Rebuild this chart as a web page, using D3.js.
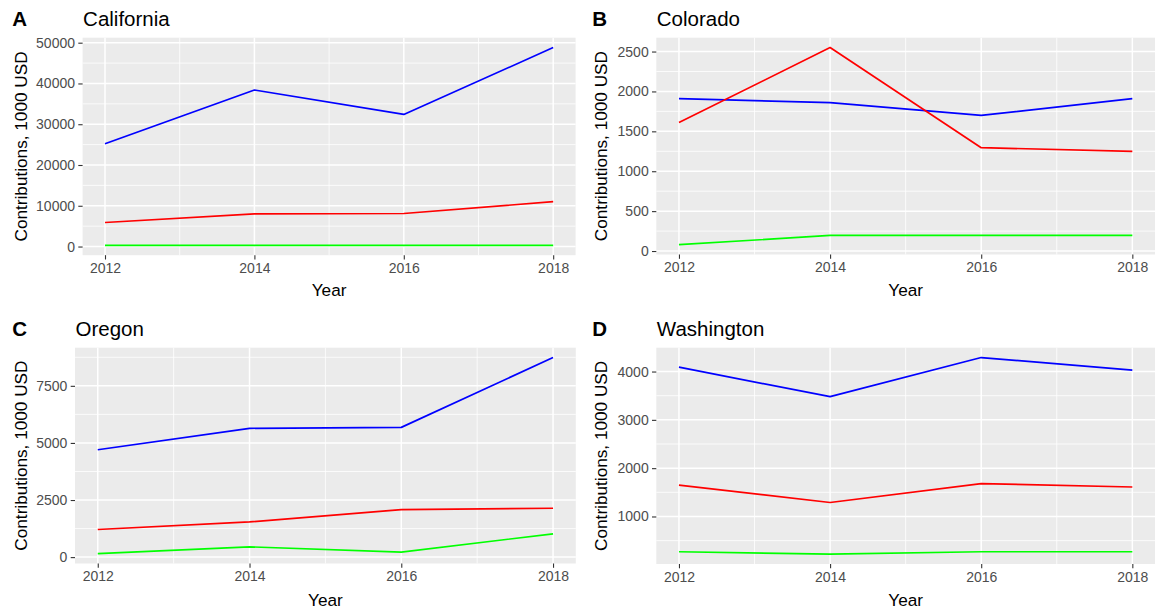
<!DOCTYPE html>
<html>
<head>
<meta charset="utf-8">
<script src="https://cdn.jsdelivr.net/npm/d3@7"></script>
<style>
  html, body { margin: 0; padding: 0; background: #ffffff; }
  svg { display: block; font-family: "Liberation Sans", Arial, sans-serif; }
</style>
</head>
<body>
<svg id="chart" width="1156" height="609"></svg>
<script>
// Campaign contributions by year, four states (values in 1000 USD)
const years = [2012, 2014, 2016, 2018];
const xTicks = [2012, 2014, 2016, 2018];

const caBlue  = [25200, 38400, 32400, 48800];
const caRed   = [5900, 8000, 8100, 11000];
const caGreen = [300, 300, 300, 300];
const caTicks = [0, 10000, 20000, 30000, 40000, 50000];

const coBlue  = [1910, 1860, 1700, 1910];
const coRed   = [1610, 2550, 1295, 1250];
const coGreen = [80, 195, 195, 195];
const coTicks = [0, 500, 1000, 1500, 2000, 2500];

const orBlue  = [4700, 5640, 5680, 8740];
const orRed   = [1210, 1540, 2080, 2140];
const orGreen = [150, 450, 220, 1020];
const orTicks = [0, 2500, 5000, 7500];

const waBlue  = [4090, 3480, 4290, 4030];
const waRed   = [1650, 1290, 1680, 1610];
const waGreen = [270, 220, 270, 270];
const waTicks = [1000, 2000, 3000, 4000];

const panelTags   = ["A", "B", "C", "D"];
const panelTitles = ["California", "Colorado", "Oregon", "Washington"];
const seriesColors = ["#0000FF", "#FF0000", "#00FF00"];

const panels = [
  { series: [caBlue, caRed, caGreen], ticks: caTicks },
  { series: [coBlue, coRed, coGreen], ticks: coTicks },
  { series: [orBlue, orRed, orGreen], ticks: orTicks },
  { series: [waBlue, waRed, waGreen], ticks: waTicks }
];

// Layout of each sub-plot: origin of the cell and its panel box
const layout = [
  { ox: 0,   oy: 0,   left: 82.6, right: 575.6, top: 37.7, bottom: 255.2 },
  { ox: 580, oy: 0,   left: 656.3, right: 1155, top: 37.7, bottom: 254.5 },
  { ox: 0,   oy: 310, left: 75,   right: 575.8, top: 347.7, bottom: 563.5 },
  { ox: 580, oy: 310, left: 656.3, right: 1155, top: 347.7, bottom: 564 }
];

const svg = d3.select("#chart");
const fmt = d3.format("d");
const tickFont = "14px";

panels.forEach((p, i) => {
  const L = layout[i];
  const g = svg.append("g");

  // ggplot-style 5% expansion of the data range
  const xr = d3.extent(years);
  const xPad = (xr[1] - xr[0]) * 0.05;
  const x = d3.scaleLinear().domain([xr[0] - xPad, xr[1] + xPad]).range([L.left, L.right]);

  const all = p.series.flat();
  const yr = d3.extent(all);
  const yPad = (yr[1] - yr[0]) * 0.05;
  const yDom = [yr[0] - yPad, yr[1] + yPad];
  const y = d3.scaleLinear().domain(yDom).range([L.bottom, L.top]);

  // panel background
  g.append("rect")
    .attr("x", L.left).attr("y", L.top)
    .attr("width", L.right - L.left).attr("height", L.bottom - L.top)
    .attr("fill", "#EBEBEB");

  // minor grid lines
  const step = p.ticks[1] - p.ticks[0];
  const yMinor = [];
  for (let v = p.ticks[0] - step / 2; v <= yDom[1]; v += step) {
    if (v >= yDom[0]) yMinor.push(v);
  }
  const xMinor = [2013, 2015, 2017];

  g.selectAll(".ymin").data(yMinor).join("line")
    .attr("x1", L.left).attr("x2", L.right)
    .attr("y1", d => y(d)).attr("y2", d => y(d))
    .attr("stroke", "#FFFFFF").attr("stroke-width", 0.8);
  g.selectAll(".xmin").data(xMinor).join("line")
    .attr("y1", L.top).attr("y2", L.bottom)
    .attr("x1", d => x(d)).attr("x2", d => x(d))
    .attr("stroke", "#FFFFFF").attr("stroke-width", 0.8);

  // major grid lines
  g.selectAll(".ymaj").data(p.ticks).join("line")
    .attr("x1", L.left).attr("x2", L.right)
    .attr("y1", d => y(d)).attr("y2", d => y(d))
    .attr("stroke", "#FFFFFF").attr("stroke-width", 1.5);
  g.selectAll(".xmaj").data(xTicks).join("line")
    .attr("y1", L.top).attr("y2", L.bottom)
    .attr("x1", d => x(d)).attr("x2", d => x(d))
    .attr("stroke", "#FFFFFF").attr("stroke-width", 1.5);

  // series lines
  const line = d3.line().x((d, k) => x(years[k])).y(d => y(d));
  p.series.forEach((s, k) => {
    g.append("path")
      .datum(s)
      .attr("d", line)
      .attr("fill", "none")
      .attr("stroke", seriesColors[k])
      .attr("stroke-width", 1.7)
      .attr("stroke-linejoin", "round");
  });

  // y axis
  const yAxis = d3.axisLeft(y).tickValues(p.ticks).tickFormat(fmt).tickSize(4.3).tickPadding(3.3);
  const ya = g.append("g").attr("transform", `translate(${L.left},0)`).call(yAxis);
  ya.select(".domain").remove();
  ya.selectAll(".tick line").attr("stroke", "#333333").attr("stroke-width", 1.1);
  ya.selectAll(".tick text")
    .attr("fill", "#4D4D4D")
    .attr("font-size", tickFont)
    .attr("font-family", "Liberation Sans, Arial, sans-serif");

  // x axis
  const xAxis = d3.axisBottom(x).tickValues(xTicks).tickFormat(fmt).tickSize(4.3).tickPadding(3.3);
  const xa = g.append("g").attr("transform", `translate(0,${L.bottom})`).call(xAxis);
  xa.select(".domain").remove();
  xa.selectAll(".tick line").attr("stroke", "#333333").attr("stroke-width", 1.1);
  xa.selectAll(".tick text")
    .attr("fill", "#4D4D4D")
    .attr("font-size", tickFont)
    .attr("font-family", "Liberation Sans, Arial, sans-serif");

  // axis titles
  g.append("text")
    .attr("x", (L.left + L.right) / 2)
    .attr("y", L.oy + 296)
    .attr("text-anchor", "middle")
    .attr("font-size", "17.2px")
    .attr("fill", "#000000")
    .text("Year");

  g.append("text")
    .attr("transform", `translate(${L.ox + 26.5},${(L.top + L.bottom) / 2}) rotate(-90)`)
    .attr("text-anchor", "middle")
    .attr("font-size", "17.2px")
    .attr("fill", "#000000")
    .text("Contributions, 1000 USD");

  // title and tag
  g.append("text")
    .attr("x", L.left + 0.5)
    .attr("y", L.oy + 25.7)
    .attr("font-size", "20.5px")
    .attr("fill", "#000000")
    .text(panelTitles[i]);

  g.append("text")
    .attr("x", L.ox + 12.3)
    .attr("y", L.oy + 25.7)
    .attr("font-size", "20.5px")
    .attr("font-weight", "bold")
    .attr("fill", "#000000")
    .text(panelTags[i]);
});
</script>
</body>
</html>
